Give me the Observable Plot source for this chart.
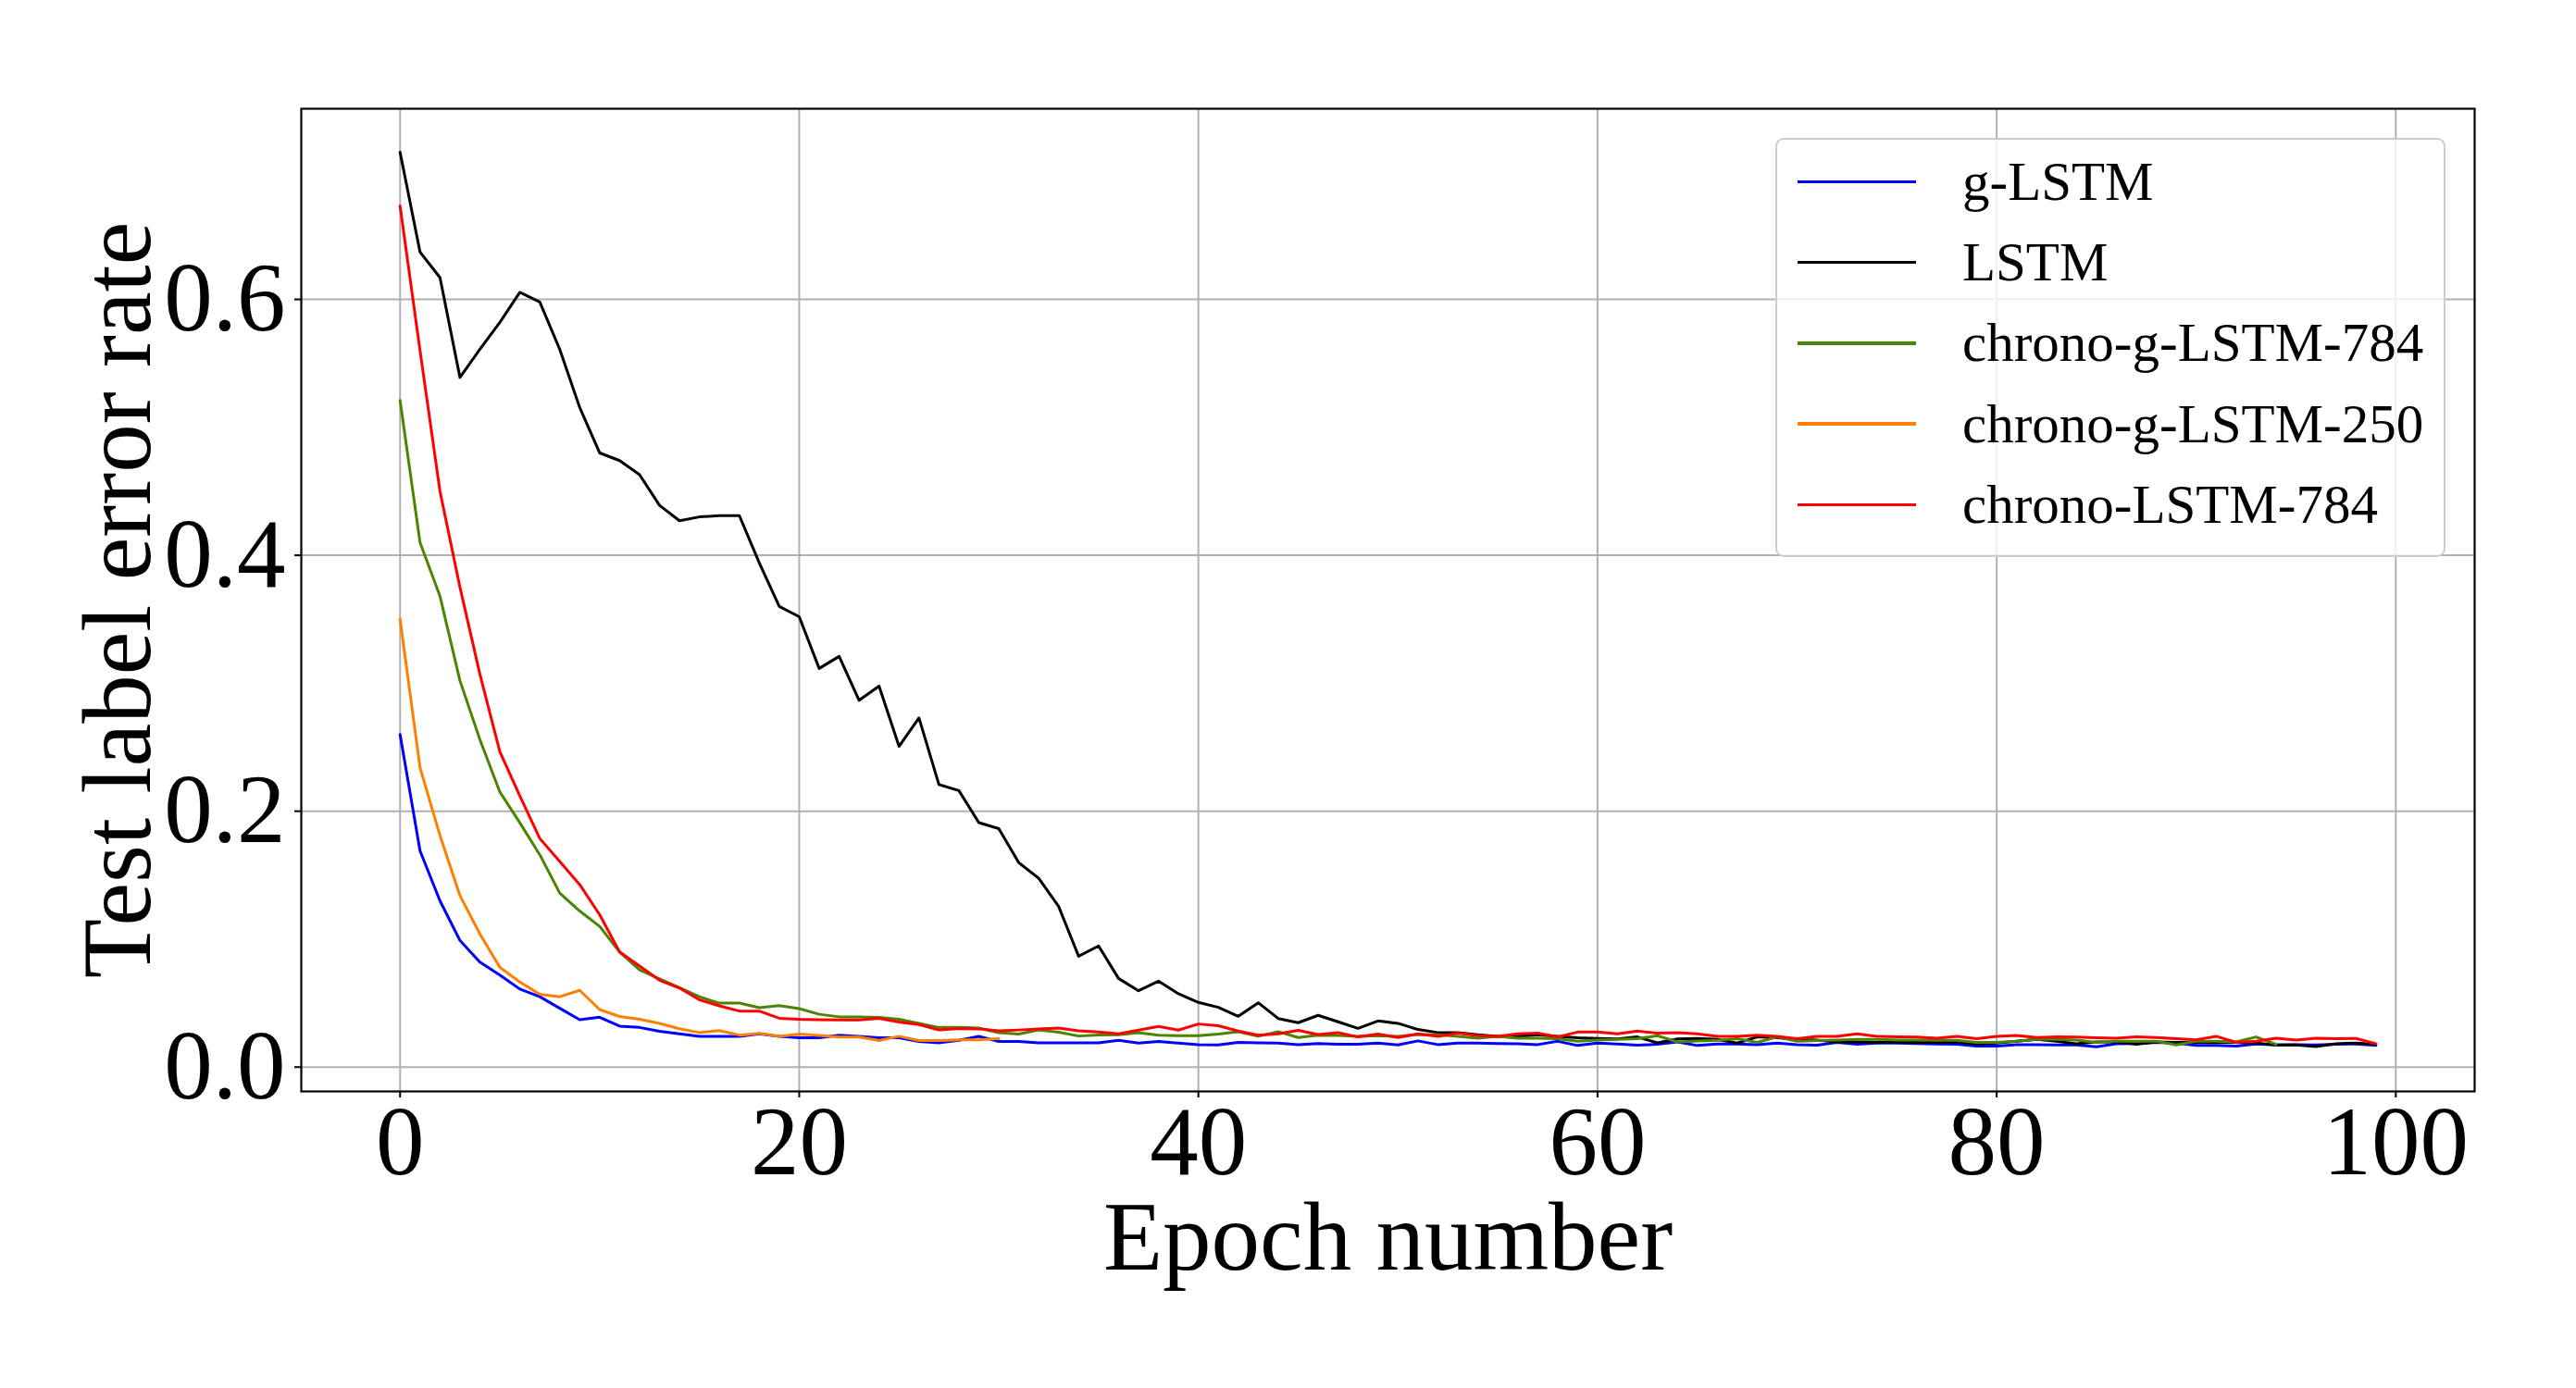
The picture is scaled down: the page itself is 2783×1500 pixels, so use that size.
<!DOCTYPE html>
<html>
<head>
<meta charset="utf-8">
<script src="https://cdn.jsdelivr.net/npm/d3@7"></script>
<script src="https://cdn.jsdelivr.net/npm/@observablehq/plot@0.6"></script>
<style>
  html, body { margin: 0; padding: 0; background: #fff; }
  #wrap { position: relative; width: 2783px; height: 1500px; }
  #legend {
    position: absolute; left: 1918px; top: 149px; width: 720px; height: 449px;
    border: 2px solid #cccccc; border-radius: 9px; background: rgba(255,255,255,0.8);
    font-family: "Liberation Serif", serif; font-size: 59px; color: #000;
  }
  .row { position: absolute; left: 0; height: 87px; display: flex; align-items: center; }
  .sw { width: 128px; height: 3.5px; margin-left: 22px; margin-right: 50px; }
  .lb { line-height: 1; white-space: nowrap; }
</style>
</head>
<body>
<div id="wrap"></div>
<script>
// ---- data (test label error rate per epoch) ----
const seriesNames = ["g-LSTM", "LSTM", "chrono-g-LSTM-784", "chrono-g-LSTM-250", "chrono-LSTM-784"];
const seriesColors = ["#0000ff", "#000000", "#4b8500", "#ff8000", "#ff0000"];
const xTicks = [0, 20, 40, 60, 80, 100];
const yTicks = [0.0, 0.2, 0.4, 0.6];

const gLSTM = [
  0.260, 0.169, 0.130, 0.099, 0.082, 0.072, 0.061, 0.055, 0.046, 0.037,
  0.039, 0.032, 0.031, 0.028, 0.026, 0.024, 0.024, 0.024, 0.026, 0.024,
  0.023, 0.023, 0.025, 0.024, 0.023, 0.023, 0.020, 0.019, 0.021, 0.024,
  0.020, 0.020, 0.019, 0.019, 0.019, 0.019, 0.0209, 0.0188, 0.0200, 0.0188,
  0.0176, 0.0173, 0.0193, 0.0190, 0.0188, 0.0176, 0.0185, 0.0178, 0.0178, 0.0188,
  0.0173, 0.0205, 0.0176, 0.0188, 0.0188, 0.0185, 0.0183, 0.0176, 0.0202, 0.0169,
  0.0188, 0.0181, 0.0171, 0.0178, 0.0197, 0.0169, 0.0181, 0.0181, 0.0176, 0.0188,
  0.0176, 0.0171, 0.0193, 0.0178, 0.0188, 0.0188, 0.0185, 0.0181, 0.0178, 0.0164,
  0.0164, 0.0176, 0.0176, 0.0173, 0.0173, 0.0159, 0.0183, 0.0185, 0.0193, 0.0188,
  0.0169, 0.0169, 0.0164, 0.0181, 0.0173, 0.0176, 0.0173, 0.0178, 0.0181, 0.0169
];
const LSTM = [
  0.715, 0.637, 0.617, 0.539, 0.561, 0.582, 0.6055, 0.598, 0.561, 0.5155,
  0.480, 0.474, 0.463, 0.439, 0.427, 0.430, 0.431, 0.431, 0.394, 0.360,
  0.352, 0.3116, 0.321, 0.2867, 0.2978, 0.2507, 0.2729, 0.2208, 0.2161, 0.1911,
  0.1864, 0.1598, 0.1476, 0.1255, 0.0867, 0.0947, 0.0693, 0.0597, 0.0672, 0.0573,
  0.0506, 0.0467, 0.0397, 0.0503, 0.0380, 0.0347, 0.0405, 0.0354, 0.0303, 0.0361,
  0.0342, 0.0294, 0.0270, 0.0270, 0.0253, 0.0241, 0.0241, 0.0253, 0.0241, 0.0230,
  0.0224, 0.0220, 0.0236, 0.0190, 0.0220, 0.0224, 0.0217, 0.0188, 0.0236, 0.0229,
  0.0217, 0.0212, 0.0197, 0.0197, 0.0193, 0.0197, 0.0193, 0.0193, 0.0197, 0.0180,
  0.0188, 0.0202, 0.0217, 0.0202, 0.0183, 0.0197, 0.0197, 0.0178, 0.0197, 0.0193,
  0.0193, 0.0193, 0.0193, 0.0188, 0.0173, 0.0173, 0.0161, 0.0183, 0.0188, 0.0178
];
const chronoG784 = [
  0.521, 0.410, 0.368, 0.302, 0.256, 0.215, 0.191, 0.166, 0.136, 0.122,
  0.110, 0.090, 0.076, 0.069, 0.062, 0.055, 0.050, 0.050, 0.0465, 0.048,
  0.0457, 0.0413, 0.0393, 0.0393, 0.0388, 0.0374, 0.0341, 0.031, 0.031, 0.0305,
  0.0269, 0.0258, 0.0290, 0.0273, 0.0243, 0.0251, 0.0253, 0.0270, 0.0250, 0.0246,
  0.0246, 0.0258, 0.0277, 0.0241, 0.0277, 0.0231, 0.0250, 0.0248, 0.0241, 0.0246,
  0.0241, 0.0255, 0.0253, 0.0241, 0.0226, 0.0241, 0.0226, 0.0226, 0.0222, 0.0202,
  0.0212, 0.0217, 0.0222, 0.0246, 0.0197, 0.0205, 0.0209, 0.0222, 0.0193, 0.0236,
  0.0202, 0.0207, 0.0212, 0.0217, 0.0217, 0.0212, 0.0212, 0.0209, 0.0209, 0.0193,
  0.0193, 0.0202, 0.0217, 0.0217, 0.0212, 0.0193, 0.0202, 0.0202, 0.0202, 0.0173,
  0.0202, 0.0202, 0.0197, 0.0236, 0.0178
];
const chronoG250 = [
  0.350, 0.234, 0.181, 0.134, 0.104, 0.078, 0.0665, 0.057, 0.055, 0.060,
  0.045, 0.0396, 0.0374, 0.0341, 0.030, 0.027, 0.0285, 0.025, 0.0263, 0.0241,
  0.0258, 0.0247, 0.0235, 0.0235, 0.0208, 0.0241, 0.0208, 0.0208, 0.0213, 0.0213,
  0.0222
];
const chronoLSTM784 = [
  0.673, 0.560, 0.450, 0.375, 0.307, 0.2465, 0.212, 0.1787, 0.1607, 0.1427,
  0.1191, 0.090, 0.079, 0.0679, 0.0618, 0.0526, 0.0479, 0.0438, 0.0438, 0.0382,
  0.0374, 0.0371, 0.0368, 0.0368, 0.0382, 0.0352, 0.0332, 0.0291, 0.0302, 0.0299,
  0.0283, 0.0290, 0.0299, 0.0305, 0.0283, 0.0274, 0.0260, 0.0289, 0.0318, 0.0289,
  0.0337, 0.0323, 0.0282, 0.0250, 0.0260, 0.0287, 0.0255, 0.0270, 0.0236, 0.0258,
  0.0231, 0.0260, 0.0241, 0.0265, 0.0246, 0.0241, 0.0260, 0.0265, 0.0236, 0.0274,
  0.0274, 0.0260, 0.0282, 0.0265, 0.0270, 0.0260, 0.0241, 0.0241, 0.0250, 0.0241,
  0.0222, 0.0241, 0.0241, 0.0260, 0.0241, 0.0236, 0.0234, 0.0226, 0.0241, 0.0222,
  0.0241, 0.0248, 0.0231, 0.0236, 0.0234, 0.0229, 0.0226, 0.0236, 0.0231, 0.0222,
  0.0214, 0.0241, 0.0193, 0.0202, 0.0226, 0.0212, 0.0226, 0.0222, 0.0224, 0.0183
];
const seriesValues = [gLSTM, LSTM, chronoG784, chronoG250, chronoLSTM784];

// ---- chart ----
const lineMarks = seriesValues.map((vals, k) =>
  Plot.lineY(vals, {x: (d, i) => i, y: d => d, stroke: seriesColors[k], strokeWidth: 3, strokeLinejoin: "round"})
);

const chart = Plot.plot({
  width: 2783,
  height: 1500,
  marginLeft: 325,
  marginRight: 110,
  marginTop: 117,
  marginBottom: 321,
  style: {fontFamily: "'Liberation Serif', serif", fontSize: "105px", background: "#fff", color: "#000", overflow: "visible"},
  x: {domain: [-4.95, 103.95]},
  y: {domain: [-0.019, 0.749]},
  marks: [
    Plot.gridX(xTicks, {stroke: "#b0b0b0", strokeOpacity: 1, strokeWidth: 2}),
    Plot.gridY(yTicks, {stroke: "#b0b0b0", strokeOpacity: 1, strokeWidth: 2}),
    ...lineMarks,
    Plot.frame({stroke: "#000", strokeWidth: 2.2}),
    Plot.axisX(xTicks, {tickSize: 7, tickPadding: 8, strokeWidth: 2, tickFormat: d => String(d),
      label: "Epoch number", labelAnchor: "center", labelOffset: 192, labelArrow: "none"}),
    Plot.axisY(yTicks, {tickSize: 7, tickPadding: 10, strokeWidth: 2, tickFormat: d => d.toFixed(1),
      label: "Test label error rate", labelAnchor: "center", labelOffset: 238, labelArrow: "none"})
  ]
});

const wrap = document.getElementById("wrap");
wrap.appendChild(chart);

// ---- legend ----
const legend = document.createElement("div");
legend.id = "legend";
seriesNames.forEach((name, k) => {
  const row = document.createElement("div");
  row.className = "row";
  row.style.top = (2 + k * 87.2) + "px";
  const sw = document.createElement("div");
  sw.className = "sw";
  sw.style.background = seriesColors[k];
  const lb = document.createElement("span");
  lb.className = "lb";
  lb.textContent = name;
  row.appendChild(sw);
  row.appendChild(lb);
  legend.appendChild(row);
});
wrap.appendChild(legend);
</script>
</body>
</html>
